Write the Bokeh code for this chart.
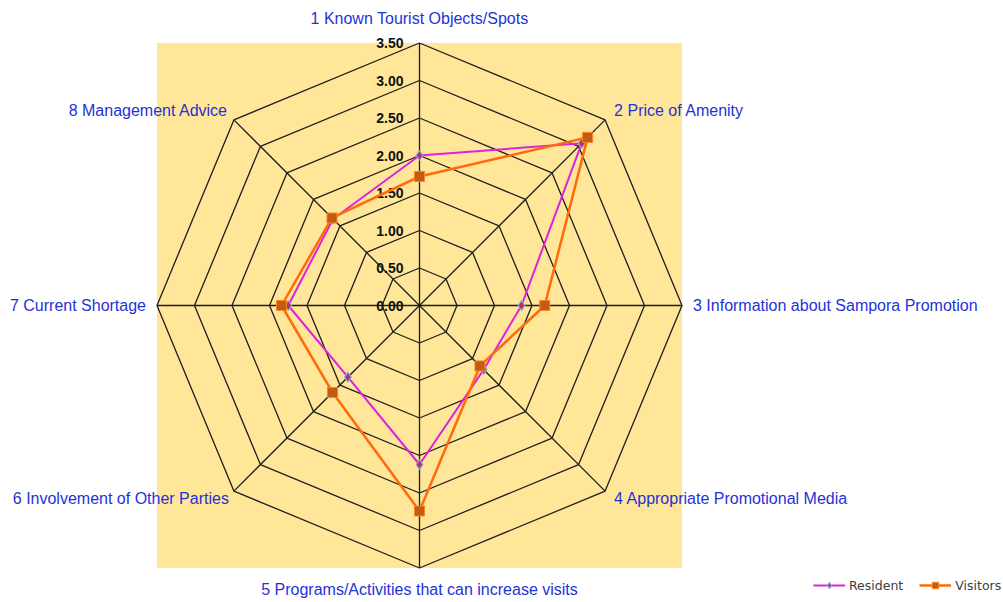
import numpy as np
from bokeh.plotting import figure
from bokeh.models import Range1d, ColumnDataSource, Legend, LegendItem
from bokeh.core.properties import value
from bokeh.embed import file_html
from bokeh.resources import INLINE

# ---------------- data ----------------
categories = [
    "1 Known Tourist Objects/Spots",
    "2 Price of Amenity",
    "3 Information about Sampora Promotion",
    "4 Appropriate Promotional Media",
    "5 Programs/Activities that can increase visits",
    "6 Involvement of Other Parties",
    "7 Current Shortage",
    "8 Management Advice",
]
resident = [2.00, 3.06, 1.36, 1.21, 2.12, 1.35, 1.75, 1.63]
visitors = [1.72, 3.17, 1.67, 1.14, 2.74, 1.64, 1.84, 1.65]
tick_values = [0.0, 0.5, 1.0, 1.5, 2.0, 2.5, 3.0, 3.5]
tick_labels = ["0.00", "0.50", "1.00", "1.50", "2.00", "2.50", "3.00", "3.50"]

# ---------------- layout ----------------
W, H = 1003, 602
SCALE = 75.0          # px per unit
CX, CY = 419, 305     # centre in canvas px (from top-left)
RMAX = max(tick_values)

n = len(categories)
angles = np.deg2rad(90 - 45 * np.arange(n))
cosA, sinA = np.cos(angles), np.sin(angles)

p = figure(width=W, height=H, output_backend="svg", toolbar_location=None,
           x_range=Range1d(-CX / SCALE, (W - CX) / SCALE),
           y_range=Range1d(-(H - CY) / SCALE, CY / SCALE),
           min_border=0, tools="")
p.axis.visible = False
p.grid.visible = False
p.outline_line_color = None
p.background_fill_color = "white"
p.border_fill_color = "white"

# plot-area background (bounding box of outer ring)
p.quad(left=[-RMAX], right=[RMAX], bottom=[-RMAX], top=[RMAX],
       fill_color="#FFE699", line_color=None)

# grid rings
ring_xs, ring_ys = [], []
for t in tick_values[1:]:
    ring_xs.append(list(np.append(t * cosA, t * cosA[0])))
    ring_ys.append(list(np.append(t * sinA, t * sinA[0])))
p.multi_line(ring_xs, ring_ys, line_color="#1e1e1e", line_width=1.3)

# spokes
p.multi_line([[0, RMAX * c] for c in cosA], [[0, RMAX * s] for s in sinA],
             line_color="#1e1e1e", line_width=1.3)

# tick labels along the vertical axis
p.text(x=[0] * len(tick_values), y=tick_values, text=tick_labels,
       x_offset=-16, text_align="right", text_baseline="middle",
       text_font=value("Liberation Sans"), text_font_style="bold",
       text_font_size="14px", text_color="#111111")

# series
def closed(vals, trig):
    v = np.array(vals) * trig
    return list(np.append(v, v[0]))

r_line = p.line(closed(resident, cosA), closed(resident, sinA),
                line_color="#DD22DD", line_width=2)
r_mark = p.scatter(list(np.array(resident) * cosA), list(np.array(resident) * sinA),
                   marker="diamond", size=10, fill_color="#B8305A",
                   line_color="#8FAADC", line_width=1.2)
v_line = p.line(closed(visitors, cosA), closed(visitors, sinA),
                line_color="#FF6A0A", line_width=2.5)
v_mark = p.scatter(list(np.array(visitors) * cosA), list(np.array(visitors) * sinA),
                   marker="square", size=10, fill_color="#C55A11",
                   line_color="#F4862A", line_width=1)

# category labels at outer vertices
lab_dx = [0, 9, 11, 9, 0, -5, -11, -6]
lab_dy = [-25, -9, 0, 7, 21, 7, 0, -9]
lab_align = ["center", "left", "left", "left", "center", "right", "right", "right"]
src = ColumnDataSource(dict(x=list(RMAX * cosA), y=list(RMAX * sinA), text=categories,
                            dx=lab_dx, dy=lab_dy, al=lab_align))
p.text(x="x", y="y", text="text", x_offset="dx", y_offset="dy", text_align="al",
       text_baseline="middle", source=src, text_font=value("Liberation Sans"),
       text_font_size="16px", text_color="#1F33D6")

legend = Legend(items=[LegendItem(label="Resident", renderers=[r_line, r_mark]),
                       LegendItem(label="Visitors", renderers=[v_line, v_mark])],
                orientation="horizontal", location=(813, 9),
                glyph_width=32, glyph_height=16, label_height=16,
                label_standoff=4, spacing=16, padding=0, margin=0,
                border_line_color=None, background_fill_alpha=0,
                label_text_font="DejaVu Sans", label_text_font_size="12.5px",
                label_text_color="#404040")
p.add_layout(legend)

open("out.html", "w").write(file_html(p, INLINE))
